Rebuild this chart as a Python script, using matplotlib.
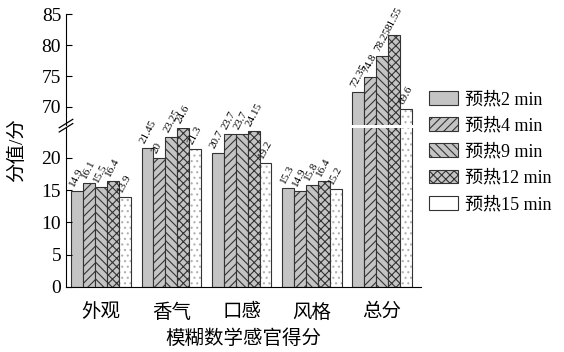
import numpy as np
import matplotlib.pyplot as plt

plt.rcParams['font.family'] = ['Liberation Serif', 'Noto Sans CJK SC']
plt.rcParams['hatch.linewidth'] = 0.8

categories = ['外观', '香气', '口感', '风格', '总分']
series_names = ['预热2 min', '预热4 min', '预热9 min', '预热12 min', '预热15 min']
scores = [
    [14.9, 21.45, 20.7, 15.3, 72.35],
    [16.1, 20.0, 23.7, 14.9, 74.8],
    [15.5, 23.25, 23.7, 15.8, 78.25],
    [16.4, 24.6, 24.15, 16.4, 81.55],
    [13.9, 21.3, 19.2, 15.2, 69.6],
]
value_labels = [
    ['14.9', '21.45', '20.7', '15.3', '72.35'],
    ['16.1', '20', '23.7', '14.9', '74.8'],
    ['15.5', '23.25', '23.7', '15.8', '78.25'],
    ['16.4', '24.6', '24.15', '16.4', '81.55'],
    ['13.9', '21.3', '19.2', '15.2', '69.6'],
]
hatches = ['', '////', '\\\\\\\\', 'xxxx', '...']
fills = ['#c4c4c4', '#c4c4c4', '#c4c4c4', '#c4c4c4', 'white']

fig = plt.figure(figsize=(5.64, 3.52), dpi=100)
ax_top = fig.add_axes([0.117, 0.645, 0.629, 0.315])
ax_bot = fig.add_axes([0.117, 0.185, 0.629, 0.452])

x = np.arange(len(categories))
w = 0.17
edge = '#333333'

for ax in (ax_top, ax_bot):
    for i in range(5):
        pos = x + (i - 2) * w
        if i == 4:
            ax.bar(pos, scores[i], w, color=fills[i], edgecolor='#b0b0b0',
                   hatch=hatches[i], linewidth=0)
            ax.bar(pos, scores[i], w, fill=False, edgecolor=edge, linewidth=0.8)
        else:
            ax.bar(pos, scores[i], w, color=fills[i], edgecolor=edge,
                   hatch=hatches[i], linewidth=0.8)
    ax.spines['top'].set_visible(False)
    ax.spines['right'].set_visible(False)
    ax.tick_params(axis='y', direction='in', labelsize=14, length=4)
    ax.set_xlim(-0.5, 4.55)

ax_top.set_ylim(67.1, 85)
ax_top.set_yticks([70, 75, 80, 85])
ax_top.spines['bottom'].set_visible(False)
ax_top.set_xticks([])

ax_bot.set_ylim(0, 24.65)
ax_bot.set_yticks([0, 5, 10, 15, 20])
ax_bot.set_xticks(x)
ax_bot.set_xticklabels(categories, fontsize=14)
ax_bot.tick_params(axis='x', length=0, pad=12)
ax_bot.set_xlabel('模糊数学感官得分', fontsize=14, labelpad=5)

for i in range(5):
    for j in range(5):
        v = scores[i][j]
        ax = ax_top if v > 60 else ax_bot
        ax.text(x[j] + (i - 2) * w - w * 0.1, v + 0.5, value_labels[i][j],
                rotation=62, rotation_mode='anchor', ha='left', va='bottom',
                fontsize=8)

# break marks on the left spine
d = 0.012
kw = dict(transform=fig.transFigure, color='black', lw=0.9, clip_on=False)
for yy in (0.637, 0.649):
    fig.add_artist(plt.Line2D([0.117 - d, 0.117 + d], [yy - 0.012, yy + 0.012], **kw))

fig.text(0.03, 0.574, '分值/分', rotation=90, fontsize=14, va='center', ha='center')

handles = []
for i in range(5):
    if i == 4:
        h = plt.Rectangle((0, 0), 1, 1, facecolor='white', edgecolor=edge,
                          linewidth=0.8)
    else:
        h = plt.Rectangle((0, 0), 1, 1, facecolor=fills[i], edgecolor=edge,
                          hatch=hatches[i], linewidth=0.8)
    handles.append(h)
fig.legend(handles, series_names, loc='center left', bbox_to_anchor=(0.742, 0.568),
           frameon=False, fontsize=13, handlelength=1.6, handleheight=0.8,
           labelspacing=0.5, handletextpad=0.35, borderaxespad=0.2)

fig.savefig('out.png', dpi=100)
